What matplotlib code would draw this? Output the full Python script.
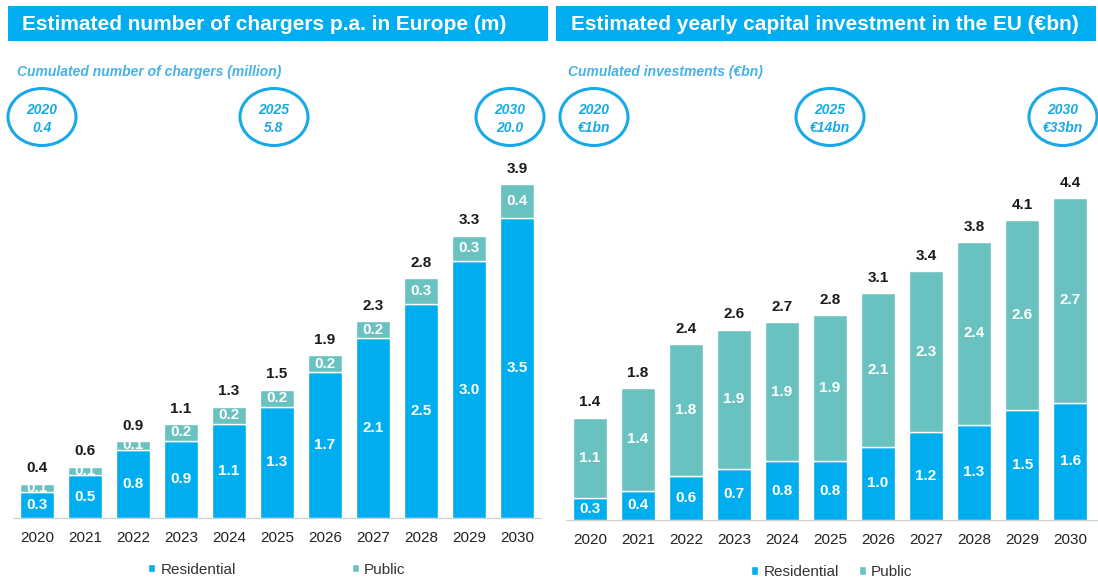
import matplotlib.pyplot as plt
from matplotlib.patches import Rectangle, Ellipse

plt.rcParams['font.family'] = ['Liberation Sans', 'DejaVu Sans']

years = ['2020', '2021', '2022', '2023', '2024', '2025', '2026', '2027', '2028', '2029', '2030']

# left panel: chargers p.a. in Europe (m)
chg_res = [0.3, 0.5, 0.8, 0.9, 1.1, 1.3, 1.7, 2.1, 2.5, 3.0, 3.5]
chg_pub = [0.1, 0.1, 0.1, 0.2, 0.2, 0.2, 0.2, 0.2, 0.3, 0.3, 0.4]
chg_tot = [0.4, 0.6, 0.9, 1.1, 1.3, 1.5, 1.9, 2.3, 2.8, 3.3, 3.9]
chg_cum = [('2020', '0.4'), ('2025', '5.8'), ('2030', '20.0')]

# right panel: yearly capital investment in the EU (€bn)
inv_res = [0.3, 0.4, 0.6, 0.7, 0.8, 0.8, 1.0, 1.2, 1.3, 1.5, 1.6]
inv_pub = [1.1, 1.4, 1.8, 1.9, 1.9, 1.9, 2.1, 2.3, 2.4, 2.6, 2.7]
inv_tot = [1.4, 1.8, 2.4, 2.6, 2.7, 2.8, 3.1, 3.4, 3.8, 4.1, 4.4]
inv_cum = [('2020', '€1bn'), ('2025', '€14bn'), ('2030', '€33bn')]

BLUE = '#00AEEF'
TEAL = '#69C2C0'
RING = '#1AA9E6'
SUB = '#45B3E8'

W, H = 1098, 580
fig = plt.figure(figsize=(W / 100, H / 100), dpi=100)


def px_axes(x0, x1, y_top, y_base):
    return fig.add_axes([x0 / W, (H - y_base) / H, (x1 - x0) / W, (y_base - y_top) / H])


def panel(ax, res, pub, tot, ytop, xmax, colspace, top_from_total):
    x = range(len(years))
    # public segment runs up to the printed total where totals were rounded separately
    seg = [t - r for r, t in zip(res, tot)] if top_from_total else pub
    b1 = ax.bar(x, res, width=0.71, color=BLUE, edgecolor='white', linewidth=1, label='Residential')
    b2 = ax.bar(x, seg, width=0.71, bottom=res, color=TEAL, edgecolor='white', linewidth=1, label='Public')
    for i in x:
        ax.text(i, res[i] / 2, f'{res[i]:.1f}', ha='center', va='center', color='white',
                fontsize=11, fontweight='bold')
        ax.text(i, res[i] + seg[i] / 2, f'{pub[i]:.1f}', ha='center', va='center', color='white',
                fontsize=11, fontweight='bold')
        ax.annotate(f'{tot[i]:.1f}', (i, res[i] + seg[i]), xytext=(0, 6), textcoords='offset points',
                    ha='center', va='bottom', color='#1a1a1a', fontsize=11, fontweight='bold')
    ax.set_xlim(-0.5, xmax)
    ax.set_ylim(0, ytop)
    ax.set_xticks(list(x))
    ax.set_xticklabels(years, fontsize=11, color='#222222')
    ax.tick_params(axis='x', length=0, pad=9.5)
    ax.set_yticks([])
    for s in ['top', 'left', 'right']:
        ax.spines[s].set_visible(False)
    ax.spines['bottom'].set_color('#d0d0d0')
    ax.patch.set_alpha(0)
    leg = ax.legend(handles=[b1, b2], loc='upper center', bbox_to_anchor=(0.5, -0.082), ncol=2,
                    frameon=False, fontsize=11, handlelength=0.45, handleheight=0.45,
                    handletextpad=0.35, columnspacing=colspace)
    for t in leg.get_texts():
        t.set_color('#333333')


ax1 = px_axes(13, 541, 140, 518)
panel(ax1, chg_res, chg_pub, chg_tot, 378 / 85.6, 10.5, 7.6, False)

ax2 = px_axes(566, 1098, 140, 520)
panel(ax2, inv_res, inv_pub, inv_tot, 380 / 73.2, 10.58, 1.3, True)

# header decorations in pixel space
ov = fig.add_axes([0, 0, 1, 1])
ov.set_xlim(0, W)
ov.set_ylim(H, 0)
ov.axis('off')
ov.patch.set_alpha(0)

ov.add_patch(Rectangle((8, 6), 540, 35, color=BLUE, lw=0))
ov.add_patch(Rectangle((556, 6), 540, 35, color=BLUE, lw=0))
ov.text(22, 24, 'Estimated number of chargers p.a. in Europe (m)', color='white',
        fontsize=15, fontweight='bold', va='center', ha='left')
ov.text(571, 24, 'Estimated yearly capital investment in the EU (€bn)', color='white',
        fontsize=15, fontweight='bold', va='center', ha='left')

ov.text(17, 72, 'Cumulated number of chargers (million)', color=SUB, fontsize=10,
        fontweight='bold', style='italic', va='center')
ov.text(568, 72, 'Cumulated investments (€bn)', color=SUB, fontsize=10,
        fontweight='bold', style='italic', va='center')

for cx, (yr, val) in zip([42, 274, 510], chg_cum):
    ov.add_patch(Ellipse((cx, 117), 68, 57, fill=False, ec=RING, lw=2.2))
    ov.text(cx, 119, f'{yr}\n{val}', color=RING, fontsize=10, fontweight='bold', style='italic',
            ha='center', va='center', linespacing=1.3)
for cx, (yr, val) in zip([594, 830, 1063], inv_cum):
    ov.add_patch(Ellipse((cx, 117), 68, 57, fill=False, ec=RING, lw=2.2))
    ov.text(cx, 119, f'{yr}\n{val}', color=RING, fontsize=10, fontweight='bold', style='italic',
            ha='center', va='center', linespacing=1.3)

fig.savefig('out.png', dpi=100)
